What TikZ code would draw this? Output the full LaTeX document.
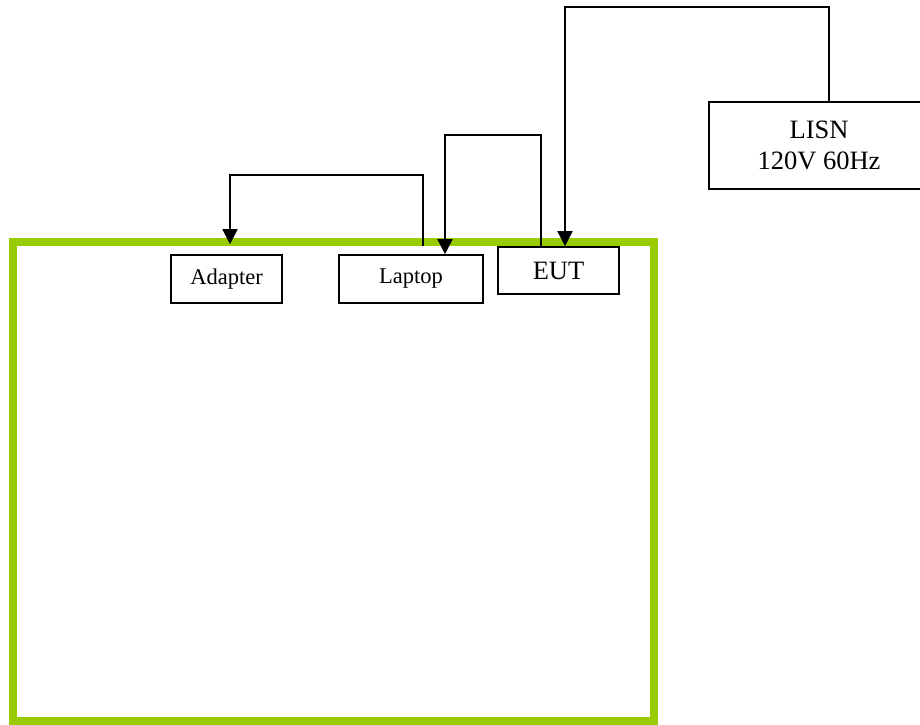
\documentclass[tikz,border=0pt]{standalone}
\usepackage{fontspec}
\setmainfont{Liberation Serif}
\usetikzlibrary{arrows.meta}
\definecolor{benchgreen}{RGB}{153,204,0}
\tikzset{
  box/.style={draw=black, line width=1.6pt, fill=white, inner sep=0pt, align=center},
  smallbox/.style={box, font=\fontsize{22.5}{26}\selectfont},
  bigbox/.style={box, font=\fontsize{26.5}{31}\selectfont},
  arr/.style={draw=black, line width=1.6pt, -{Triangle[length=15pt,width=15pt]}}
}
\begin{document}
\begin{tikzpicture}[x=1pt,y=-1pt]
\path[use as bounding box, clip] (0,0) rectangle (920,724);
% ground plane / table
\draw[draw=benchgreen, line width=8pt] (13,242) rectangle (654,721);
% equipment
\node[smallbox, minimum width=111pt, minimum height=48pt] (adapter) at (226.5,279) {Adapter};
\node[smallbox, minimum width=144pt, minimum height=48pt] (laptop) at (411,279) {Laptop};
\node[bigbox, minimum width=121pt, minimum height=47pt] (eut) at (558.5,270.5) {EUT};
\node[bigbox, minimum width=220pt, minimum height=87pt] (lisn) at (819,145.5) {LISN\\120V 60Hz};
% connection points
\coordinate (lapout) at ([shift={(12pt,8pt)}]laptop.north);
\coordinate (adin) at ([shift={(3.5pt,10pt)}]adapter.north);
\coordinate (eutout) at ([xshift=-17.5pt]eut.north);
\coordinate (lapin) at ([xshift=34pt]laptop.north);
\coordinate (lisnout) at ([xshift=10pt]lisn.north);
\coordinate (eutin) at ([xshift=6.5pt]eut.north);
% cables
\draw[arr] (lapout) -- (lapout |- 0,175) -| (adin);
\draw[arr] (eutout) -- (eutout |- 0,135) -| (lapin);
\draw[arr] (lisnout) -- (lisnout |- 0,7) -| (eutin);
\end{tikzpicture}
\end{document}
